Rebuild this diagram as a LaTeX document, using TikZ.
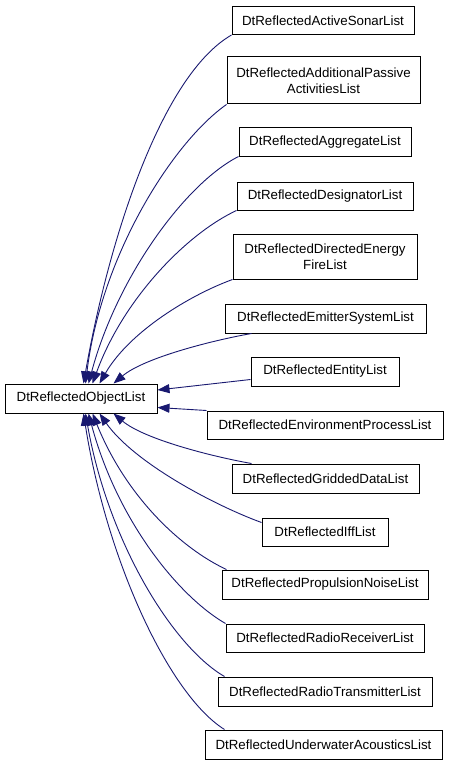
\documentclass[tikz,border=0pt]{standalone}
\usepackage{fontspec}
\setmainfont{Liberation Sans}
\usetikzlibrary{arrows.meta}
\definecolor{midnightblue}{HTML}{191970}

\begin{document}
\begin{tikzpicture}[x=1pt,y=1pt]
        \tikzstyle{every node}+=[inner sep=0pt]
        \tikzstyle{cls}=[draw=black, line width=1pt, fill=white, minimum height=28pt, align=center, font=\fontsize{13.3}{16}\selectfont]
        \tikzstyle{inh}=[draw=midnightblue, line width=0.9pt, -{Triangle[length=12pt,width=9pt]}, midnightblue]
        \useasboundingbox (0,0) rectangle (451,-765);
        \node [cls, minimum width=152pt, minimum height=29pt] (base) at (81,-398.5) {DtReflectedObjectList};
        \node [cls, minimum width=182pt] (sonar) at (323,-20.5) {DtReflectedActiveSonarList};
        \node [cls, minimum width=193pt, minimum height=47pt] (addl) at (323.5,-80.5) {DtReflectedAdditionalPassive\\ActivitiesList};
        \node [cls, minimum width=172pt] (aggr) at (325,-142) {DtReflectedAggregateList};
        \node [cls, minimum width=176pt] (desig) at (325,-196) {DtReflectedDesignatorList};
        \node [cls, minimum width=184pt, minimum height=45pt] (directed) at (325,-256.5) {DtReflectedDirectedEnergy\\FireList};
        \node [cls, minimum width=201pt, minimum height=29pt] (emit) at (325.5,-318.5) {DtReflectedEmitterSystemList};
        \node [cls, minimum width=148pt, minimum height=29pt] (entity) at (325,-371.5) {DtReflectedEntityList};
        \node [cls, minimum width=236pt] (env) at (325,-425) {DtReflectedEnvironmentProcessList};
        \node [cls, minimum width=187pt, minimum height=29pt] (grid) at (325.5,-478.5) {DtReflectedGriddedDataList};
        \node [cls, minimum width=126pt] (iff) at (325,-532) {DtReflectedIffList};
        \node [cls, minimum width=206pt, minimum height=29pt] (prop) at (325,-584.5) {DtReflectedPropulsionNoiseList};
        \node [cls, minimum width=198pt] (recv) at (325,-638) {DtReflectedRadioReceiverList};
        \node [cls, minimum width=214pt, minimum height=29pt] (trans) at (325,-691.5) {DtReflectedRadioTransmitterList};
        \node [cls, minimum width=237pt, minimum height=29pt] (under) at (323.5,-744.5) {DtReflectedUnderwaterAcousticsList};
        % edges above the base class
        \draw [inh] (sonar.south west) .. controls +(210:80) and +(80:150) .. ([xshift=79pt]base.north west);
        \draw [inh] (addl.south west) .. controls +(215:65) and +(83:130) .. ([xshift=81pt]base.north west);
        \draw [inh] (aggr.south west) .. controls +(207:60) and +(75:110) .. ([xshift=84pt]base.north west);
        \draw [inh] (desig.south west) .. controls +(205:55) and +(70:90) .. ([xshift=88pt]base.north west);
        \draw [inh] (directed.south west) .. controls +(200:45) and +(60:60) .. ([xshift=95pt]base.north west);
        \draw [inh] ([xshift=27pt]emit.south west) .. controls +(190:40) and +(40:40) .. ([xshift=109pt]base.north west);
        \draw [inh] ([yshift=-8pt]entity.west) -- ([yshift=8.5pt]base.east);
        \draw [inh] (env.north west) -- ([yshift=-9pt]base.east);
        % edges below the base class
        \draw [inh] ([xshift=20pt]grid.north west) .. controls +(170:40) and +(-40:40) .. ([xshift=109pt]base.south west);
        \draw [inh] ([yshift=-5pt]iff.north west) .. controls +(160:50) and +(-55:60) .. ([xshift=95pt]base.south west);
        \draw [inh] ([xshift=5pt]prop.north west) .. controls +(155:50) and +(-68:90) .. ([xshift=88pt]base.south west);
        \draw [inh] (recv.north west) .. controls +(150:55) and +(-75:110) .. ([xshift=84pt]base.south west);
        \draw [inh] ([xshift=7pt]trans.north west) .. controls +(150:60) and +(-80:130) .. ([xshift=81pt]base.south west);
        \draw [inh] ([xshift=20pt]under.north west) .. controls +(148:65) and +(-81:150) .. ([xshift=79pt]base.south west);
\end{tikzpicture}
\end{document}
